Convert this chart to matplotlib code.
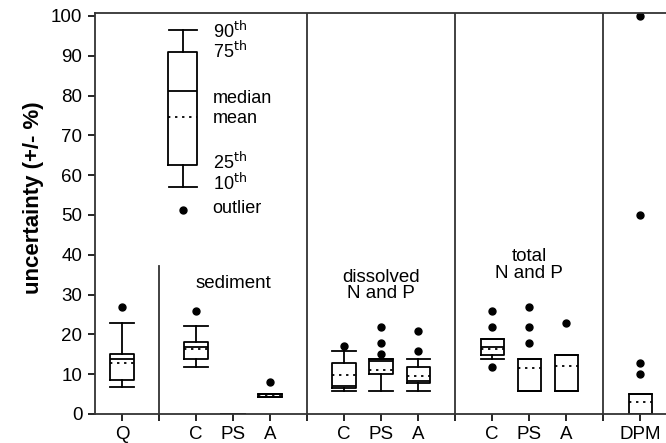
import numpy as np
import matplotlib.pyplot as plt

plt.rcParams['font.family'] = ['Liberation Sans', 'DejaVu Sans']

# category positions and labels
positions = [1, 3, 4, 5, 7, 8, 9, 11, 12, 13, 15]
labels = ['Q', 'C', 'PS', 'A', 'C', 'PS', 'A', 'C', 'PS', 'A', 'DPM']

# box statistics
whislo = [6.9, 11.9, 0.0, 4.3, 5.9, 5.9, 5.9, 13.8, 5.9, 5.9, 0.0]
q1     = [8.5, 13.7, 0.0, 4.3, 6.6, 10.0, 7.7, 14.8, 5.9, 5.9, 0.0]
median = [13.7, 16.9, 0.0, 5.1, 7.1, 13.4, 8.3, 16.8, 5.9, 5.9, 0.0]
mean   = [12.7, 16.4, 0.0, 4.7, 9.8, 11.1, 9.5, 16.3, 11.5, 12.1, 3.0]
q3     = [15.0, 18.2, 0.0, 5.1, 12.9, 13.8, 11.7, 18.8, 13.8, 14.8, 4.9]
whishi = [22.8, 22.2, 0.0, 5.1, 15.7, 13.8, 13.8, 18.8, 13.8, 14.8, 4.9]
outliers = [[26.8], [25.9], [], [8.0], [17.2], [15.0, 17.9, 21.9], [15.8, 20.9],
            [11.9, 21.9, 25.9], [17.8, 21.9, 26.9], [22.9], [10.0, 12.8, 50.0, 100.0]]

# key box
key_stats = dict(whislo=57.1, q1=62.6, med=81.1, mean=74.5, q3=90.9, whishi=96.5, fliers=[51.3])
key_labels = [r'90$^{\rm th}$', r'75$^{\rm th}$', 'median', 'mean',
              r'25$^{\rm th}$', r'10$^{\rm th}$', 'outlier']
key_label_y = [94.4, 89.4, 78.1, 73.1, 61.6, 56.4, 50.5]

dividers = [2, 6, 10, 14]
group_names = ['sediment', 'dissolved\nN and P', 'total\nN and P']
group_x = [4, 8, 12]
group_y = [32.9, 32.2, 37.4]

fs = 13.5

fig = plt.figure(figsize=(6.66, 4.43), dpi=100)
ax = fig.add_axes([0.1426, 0.0655, 1.017 - 0.1426, 0.9707 - 0.0655])

stats = []
for i in range(len(positions)):
    stats.append(dict(whislo=whislo[i], q1=q1[i], med=median[i], mean=mean[i],
                      q3=q3[i], whishi=whishi[i], fliers=outliers[i]))

boxprops = dict(color='black', linewidth=1.3)
lineprops = dict(color='black', linewidth=1.3)
meanprops = dict(color='black', linewidth=1.3, linestyle=(0, (1.3, 2.6)))
flierprops = dict(marker='o', markerfacecolor='black', markeredgecolor='black',
                  markersize=5, linestyle='none')

ax.bxp(stats, positions=positions, widths=0.63, capwidths=0.63,
       showmeans=True, meanline=True, boxprops=boxprops, whiskerprops=lineprops,
       capprops=lineprops, medianprops=lineprops, meanprops=meanprops,
       flierprops=flierprops, manage_ticks=False)

ax.bxp([key_stats], positions=[2.64], widths=0.77, capwidths=0.75,
       showmeans=True, meanline=True, boxprops=boxprops, whiskerprops=lineprops,
       capprops=lineprops, medianprops=lineprops, meanprops=meanprops,
       flierprops=flierprops, manage_ticks=False)

for lab, y in zip(key_labels, key_label_y):
    ax.text(3.45, y, lab, fontsize=13, va='baseline', ha='left')

for gx, gy, name in zip(group_x, group_y, group_names):
    ax.text(gx, gy, name, fontsize=fs, ha='center', va='center', linespacing=0.95)

# group dividers
ax.plot([dividers[0], dividers[0]], [0, 37.3], color='#333333', lw=1.3)
for d in dividers[1:]:
    ax.axvline(d, color='#333333', lw=1.3)

ax.set_xlim(0.27, 16)
ax.set_ylim(0, 100.75)
ax.set_yticks(np.arange(0, 101, 10))
ax.set_xticks(positions)
ax.set_xticklabels(labels)
ax.set_xticks(dividers, minor=True)
ax.tick_params(axis='both', which='both', direction='out', length=5, width=1.2,
               labelsize=fs, colors='black')
ax.tick_params(axis='x', pad=4)
ax.tick_params(axis='y', pad=4)
ax.spines['right'].set_visible(False)
for s in ['left', 'bottom', 'top']:
    ax.spines[s].set_linewidth(1.3)
    ax.spines[s].set_color('#333333')

ax.set_ylabel('uncertainty (+/- %)', fontsize=16, fontweight='bold')
ax.yaxis.set_label_coords(-0.088, 0.54)

fig.savefig('out.png', dpi=100)
